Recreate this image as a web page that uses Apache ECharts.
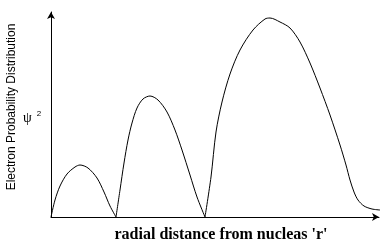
<!DOCTYPE html>
<html>
<head>
<meta charset="utf-8">
<script src="https://cdn.jsdelivr.net/npm/echarts@6/dist/echarts.min.js"></script>
<style>html,body{margin:0;padding:0;background:#fff}#c{width:386px;height:250px}</style>
</head>
<body>
<div id="c"></div>
<script>
// radial distance (arbitrary units) and probability (arbitrary units)
const lobe1 = [[0,0],[4,17],[9,31],[16,43],[24,50],[29,52],[37,49],[46,39],[53,25],[59,11],[65,0]];
const lobe2 = [[65,0],[69,27],[73,54],[77,77],[81,94],[86,109],[92,118],[99,121],[107,117],[116,105],[124,87],[131,67],[139,42],[146,20],[154,0]];
const lobe3 = [[154,0],[160,40],[165,85],[171,115],[179,143],[189,167],[202,187],[214,198],[219,199],[229,195],[239,189],[249,175],[259,154],[269,129],[279,102],[289,72],[295,52],[299,37],[303,25],[307,17],[313,11],[321,8],[329,7]];
const yTitle = 'Electron Probability Distribution';
const xTitle = "radial distance from nucleas 'r'";

const chart = echarts.init(document.getElementById('c'), null, {renderer:'canvas'});
const lineStyle = {color:'#000', width:1};
const mk = d => ({type:'line', data:d, smooth:0.3, showSymbol:false, clip:false, lineStyle:lineStyle, silent:true, animation:false});
chart.setOption({
  animation:false,
  backgroundColor:'#fff',
  grid:{left:51, top:12, right:7, bottom:33},
  xAxis:{type:'value', min:0, max:328,
    axisLine:{show:true, lineStyle:{color:'#000', width:1}, symbol:['none','arrow'], symbolSize:[6,7]},
    axisTick:{show:false}, axisLabel:{show:false}, splitLine:{show:false}},
  yAxis:{type:'value', min:0, max:205,
    axisLine:{show:true, lineStyle:{color:'#000', width:1}, symbol:['none','arrow'], symbolSize:[6,7]},
    axisTick:{show:false}, axisLabel:{show:false}, splitLine:{show:false}},
  series:[mk(lobe1), mk(lobe2), mk(lobe3)],
  graphic:[
    {type:'text', x:12, y:107, rotation:Math.PI/2, style:{text:yTitle, font:'12px "Liberation Sans", Arial, sans-serif', fill:'#000', align:'center', verticalAlign:'middle'}},
    {type:'text', x:23, y:118, style:{rich:{p:{font:'14px "Liberation Serif", serif', fill:'#000'}, s:{font:'8px "Liberation Sans", sans-serif', fill:'#000', padding:[0,0,8,5]}}, text:'{p|ψ}{s|2}', align:'left', verticalAlign:'middle'}},
    {type:'text', x:221, y:235, style:{text:xTitle, font:'bold 16px "Liberation Serif", serif', fill:'#000', align:'center', verticalAlign:'middle'}}
  ]
});
</script>
</body>
</html>
